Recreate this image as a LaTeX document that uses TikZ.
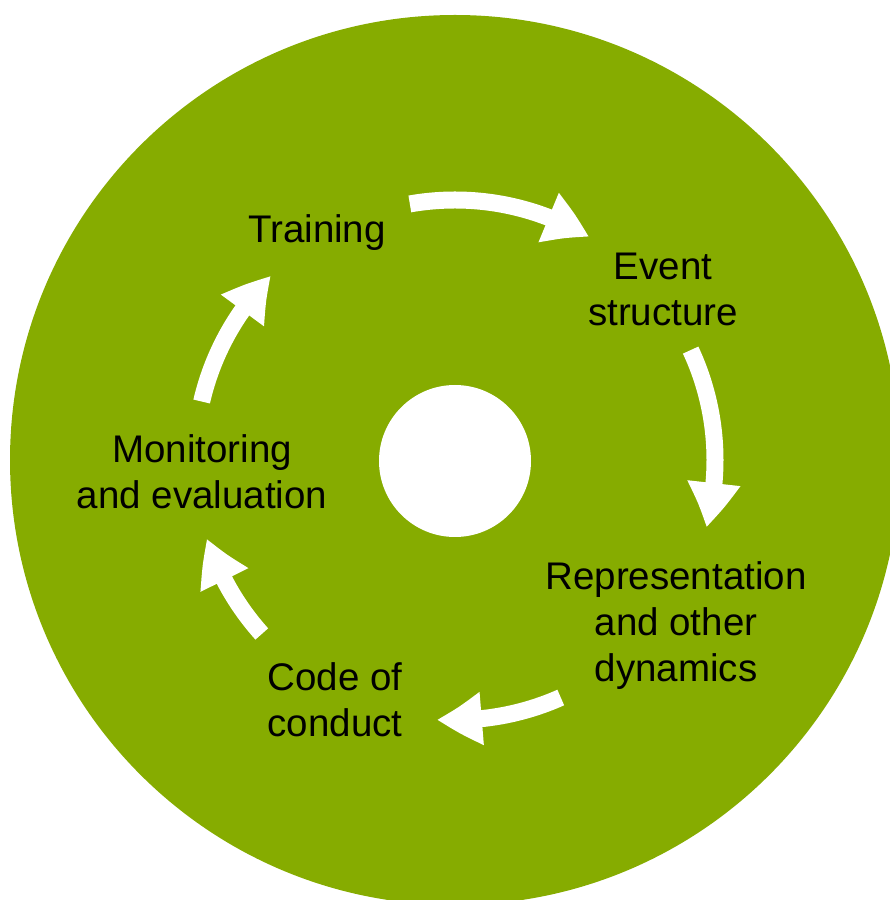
\documentclass[tikz,border=0pt]{standalone}
\usepackage{fontspec}
\setmainfont{Liberation Sans}
\usetikzlibrary{arrows.meta,bending}
\definecolor{leaf}{RGB}{134,172,0}
\tikzset{
  label/.style={font=\fontsize{38.5}{46}\selectfont, text=black, align=center, inner sep=0pt, anchor=base},
  flow/.style={draw=white, line width=17pt, -{Triangle[length=45pt,width=50pt,bend]}}
}
\begin{document}
\begin{tikzpicture}[x=1pt,y=1pt]
\useasboundingbox (0,0) rectangle (890,900);
\clip (0,0) rectangle (890,900);
\coordinate (C) at (455,440);
\fill[leaf] (C) circle[radius=445pt];
\node[circle, fill=white, minimum size=152pt, inner sep=0pt] (hole) at (455,439) {};

% anchor=base sits on the baseline of the last line
\node[label] (train) at (317,657) {Training};
\node[label] (event) at (663,574) {Event\\structure};
\node[label] (rep) at (676,218) {Representation\\and other\\dynamics};
\node[label] (code) at (335,163) {Code of\\conduct};
\node[label] (mon) at (202,391) {Monitoring\\and evaluation};

\coordinate (a1) at ([shift={(100:260pt)}]C);
\coordinate (a2) at ([shift={(25:260pt)}]C);
\coordinate (a3) at ([shift={(-66:260pt)}]C);
\coordinate (a4) at ([shift={(222:260pt)}]C);
\coordinate (a5) at ([shift={(167:260pt)}]C);

\draw[flow] (a1) arc[start angle=100, end angle=59, radius=260pt];
\draw[flow] (a2) arc[start angle=25, end angle=-15, radius=260pt];
\draw[flow] (a3) arc[start angle=-66, end angle=-94, radius=260pt];
\draw[flow] (a4) arc[start angle=222, end angle=197.6, radius=260pt];
\draw[flow] (a5) arc[start angle=167, end angle=135, radius=260pt];
\end{tikzpicture}
\end{document}
